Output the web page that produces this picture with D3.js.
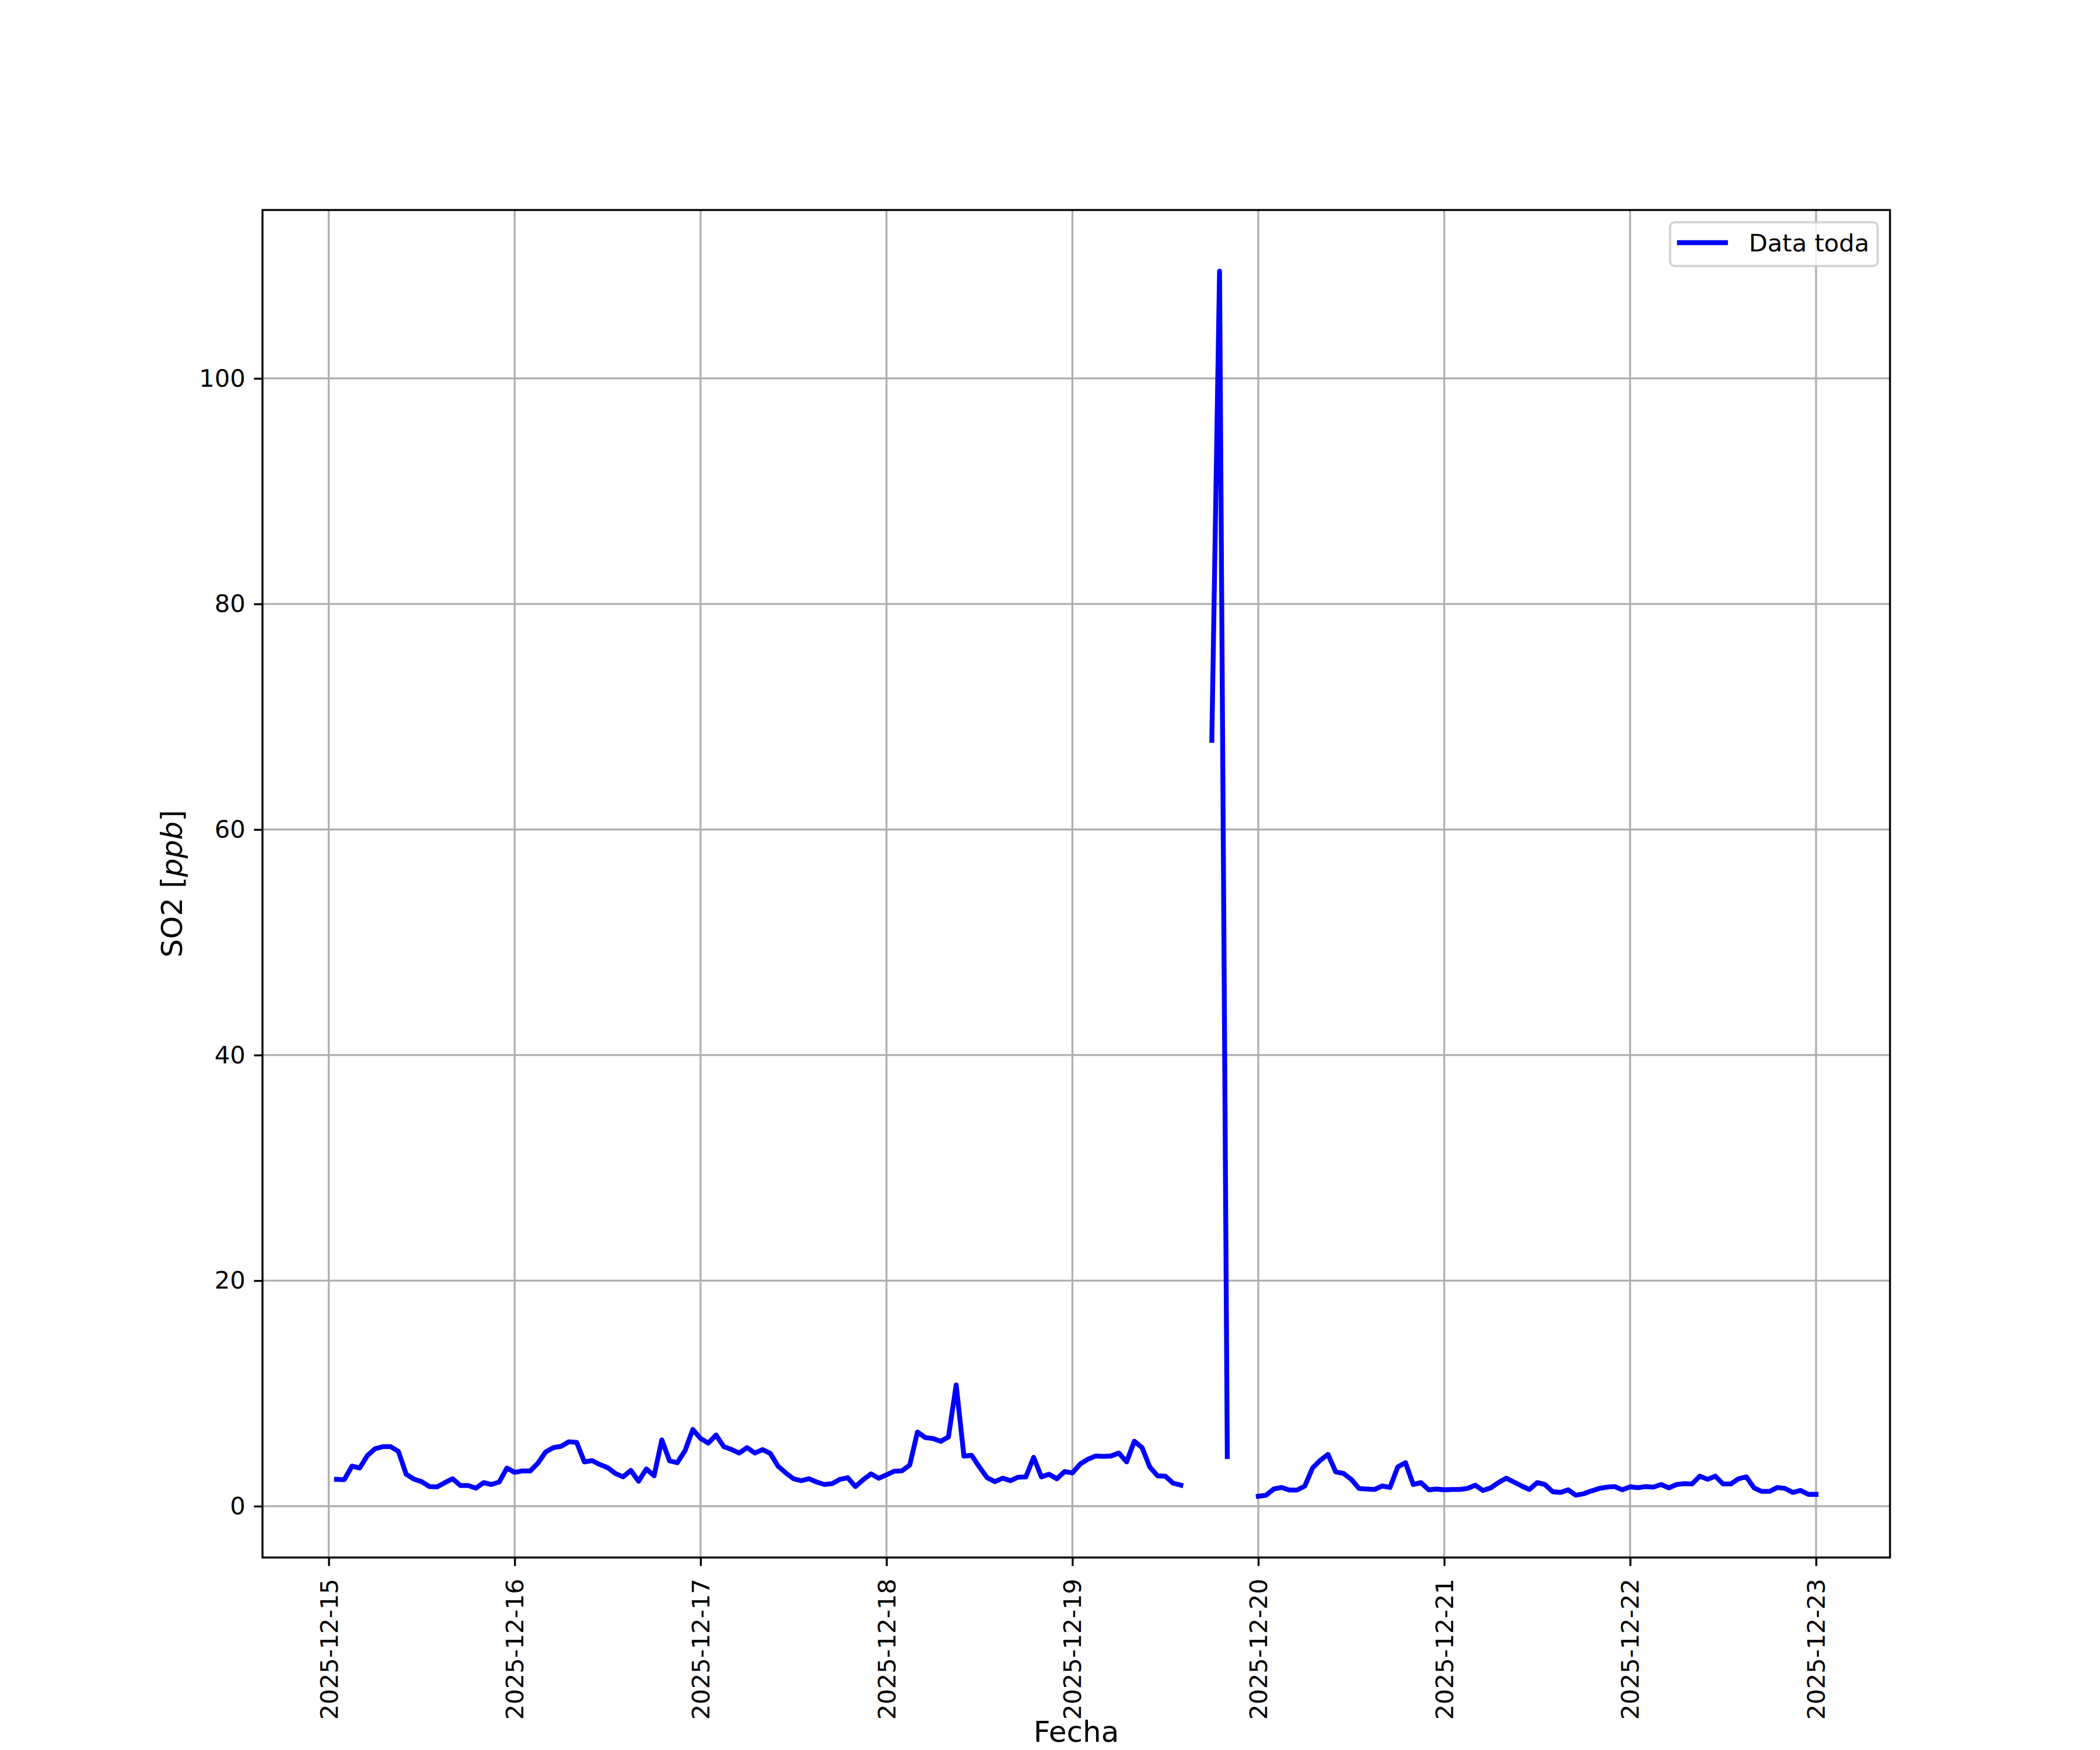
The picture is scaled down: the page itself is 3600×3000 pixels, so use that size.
<!DOCTYPE html>
<html>
<head>
<meta charset="utf-8">
<script src="https://cdn.jsdelivr.net/npm/d3@7"></script>
<style>
  html, body { margin: 0; padding: 0; background: #ffffff; }
  svg { display: block; }
  text { font-family: "DejaVu Sans", sans-serif; fill: #000; }
</style>
</head>
<body>
<script>
// ---------------- DATA ----------------
const startTime = "2025-12-15T01:00:00Z";   // first hourly sample
const stepHours = 1;
const so2 = [
  // 2025-12-15 01:00 .. 2025-12-16 00:00
  2.38, 2.35, 3.55, 3.38, 4.5, 5.1, 5.28, 5.28, 4.85, 2.83, 2.4, 2.17,
  1.74, 1.71, 2.09, 2.43, 1.83, 1.83, 1.6, 2.09, 1.92, 2.14, 3.38, 3.0,
  // 2025-12-16 01:00 .. 2025-12-17 00:00
  3.12, 3.12, 3.81, 4.8, 5.19, 5.31, 5.71, 5.66, 3.93, 4.04, 3.69, 3.42,
  2.9, 2.6, 3.17, 2.21, 3.3, 2.69, 5.88, 4.02, 3.85, 4.93, 6.8, 6.0,
  // 2025-12-17 01:00 .. 2025-12-18 00:00
  5.59, 6.31, 5.28, 5.02, 4.71, 5.19, 4.71, 5.02, 4.68, 3.55, 2.95, 2.43,
  2.26, 2.43, 2.14, 1.92, 2.0, 2.38, 2.52, 1.74, 2.35, 2.86, 2.48, 2.78,
  // 2025-12-18 01:00 .. 2025-12-19 00:00
  3.1, 3.14, 3.64, 6.57, 6.09, 6.0, 5.75, 6.14, 10.75, 4.45, 4.5, 3.47,
  2.52, 2.17, 2.48, 2.26, 2.57, 2.6, 4.33, 2.6, 2.83, 2.43, 3.07, 2.95,
  // 2025-12-19 01:00 .. 2025-12-20 00:00
  3.73, 4.16, 4.45, 4.42, 4.45, 4.71, 3.93, 5.76, 5.19, 3.47, 2.69, 2.66,
  2.04, 1.86, null, null, null, 67.9, 109.5, 4.4, null, null, null, 0.88,
  // 2025-12-20 01:00 .. 2025-12-21 00:00
  0.97, 1.52, 1.66, 1.43, 1.43, 1.78, 3.38, 4.07, 4.59, 3.04, 2.9, 2.38,
  1.57, 1.52, 1.48, 1.79, 1.66, 3.47, 3.86, 1.92, 2.09, 1.45, 1.52, 1.45,
  // 2025-12-21 01:00 .. 2025-12-22 00:00
  1.48, 1.48, 1.57, 1.86, 1.40, 1.62, 2.09, 2.48, 2.14, 1.79, 1.48, 2.09,
  1.92, 1.28, 1.22, 1.45, 0.97, 1.10, 1.35, 1.57, 1.69, 1.74, 1.45, 1.72,
  // 2025-12-22 01:00 .. 2025-12-23 00:00
  1.64, 1.74, 1.69, 1.92, 1.62, 1.92, 2.0, 1.97, 2.66, 2.38, 2.66, 1.97,
  1.97, 2.43, 2.6, 1.62, 1.31, 1.31, 1.66, 1.57, 1.22, 1.40, 1.05, 1.05
];
const xTickLabels = ["2025-12-15", "2025-12-16", "2025-12-17", "2025-12-18",
  "2025-12-19", "2025-12-20", "2025-12-21", "2025-12-22", "2025-12-23"];
const yTickValues = [0, 20, 40, 60, 80, 100];
const seriesName = "Data toda";
const xLabel = "Fecha";

// ---------------- LAYOUT ----------------
(function () {
const W = 3600, H = 3000;
const mLeft = 450, mRight = 3240, mTop = 360, mBottom = 2670;
const px = 300 / 72;               // points -> pixels at 300 dpi
const tickLen = 3.5 * px, tickPad = 3.5 * px, thin = 0.8 * px;
const tickFont = 10 * px, labelFont = 12 * px;

const t0 = new Date(startTime);
const data = so2.map((v, i) => ({ t: d3.utcHour.offset(t0, i * stepHours), v }));
const valid = data.filter(d => d.v !== null);

const tExt = d3.extent(data, d => d.t);
const span = tExt[1] - tExt[0];
const x = d3.scaleUtc()
  .domain([new Date(+tExt[0] - 0.05 * span), new Date(+tExt[1] + 0.05 * span)])
  .range([mLeft, mRight]);

const vExt = d3.extent(valid, d => d.v);
const vr = vExt[1] - vExt[0];
const y = d3.scaleLinear()
  .domain([vExt[0] - 0.05 * vr, vExt[1] + 0.05 * vr])
  .range([mBottom, mTop]);

const xTicks = xTickLabels.map(s => new Date(s + "T00:00:00Z"));

const svg = d3.select("body").append("svg")
  .attr("width", W).attr("height", H).attr("viewBox", `0 0 ${W} ${H}`);
svg.append("rect").attr("width", W).attr("height", H).attr("fill", "#fff");

svg.append("defs").append("clipPath").attr("id", "clip")
  .append("rect").attr("x", mLeft).attr("y", mTop)
  .attr("width", mRight - mLeft).attr("height", mBottom - mTop);

// grid
const grid = svg.append("g").attr("stroke", "#b0b0b0").attr("stroke-width", thin);
grid.selectAll("line.gx").data(xTicks).join("line").attr("class", "gx")
  .attr("x1", d => x(d)).attr("x2", d => x(d))
  .attr("y1", mTop).attr("y2", mBottom);
grid.selectAll("line.gy").data(yTickValues).join("line").attr("class", "gy")
  .attr("x1", mLeft).attr("x2", mRight)
  .attr("y1", d => y(d)).attr("y2", d => y(d));

// line
const line = d3.line()
  .defined(d => d.v !== null)
  .x(d => x(d.t)).y(d => y(d.v));
svg.append("path").datum(data)
  .attr("clip-path", "url(#clip)")
  .attr("d", line)
  .attr("fill", "none")
  .attr("stroke", "#0000ff")
  .attr("stroke-width", 2 * px)
  .attr("stroke-linecap", "square")
  .attr("stroke-linejoin", "round");

// x axis
const xAxis = svg.append("g").attr("transform", `translate(0,${mBottom})`)
  .call(d3.axisBottom(x).tickValues(xTicks)
    .tickFormat((d, i) => xTickLabels[i])
    .tickSizeInner(tickLen).tickSizeOuter(0).tickPadding(tickPad));
xAxis.select(".domain").remove();
xAxis.selectAll(".tick line").attr("stroke", "#000").attr("stroke-width", thin);
xAxis.selectAll(".tick text")
  .attr("font-size", tickFont)
  .attr("font-family", "DejaVu Sans")
  .attr("fill", "#000")
  .attr("y", null).attr("dy", null)
  .attr("transform", `translate(0,${tickLen + tickPad + 7}) rotate(-90)`)
  .attr("text-anchor", "end")
  .attr("dominant-baseline", "central");

// y axis
const yAxis = svg.append("g").attr("transform", `translate(${mLeft},0)`)
  .call(d3.axisLeft(y).tickValues(yTickValues).tickFormat(d3.format("d"))
    .tickSizeInner(tickLen).tickSizeOuter(0).tickPadding(tickPad));
yAxis.select(".domain").remove();
yAxis.selectAll(".tick line").attr("stroke", "#000").attr("stroke-width", thin);
yAxis.selectAll(".tick text")
  .attr("font-size", tickFont)
  .attr("fill", "#000")
  .attr("font-family", "DejaVu Sans");

// spines
svg.append("rect")
  .attr("x", mLeft).attr("y", mTop)
  .attr("width", mRight - mLeft).attr("height", mBottom - mTop)
  .attr("fill", "none").attr("stroke", "#000").attr("stroke-width", thin);

// axis labels
svg.append("text")
  .attr("x", (mLeft + mRight) / 2).attr("y", 2986)
  .attr("text-anchor", "middle")
  .attr("font-size", labelFont)
  .text(xLabel);

const yl = svg.append("text")
  .attr("transform", `translate(312,${(mTop + mBottom) / 2}) rotate(-90)`)
  .attr("text-anchor", "middle")
  .attr("font-size", labelFont);
yl.append("tspan").text("SO2 [");
yl.append("tspan").attr("font-style", "italic").text("ppb");
yl.append("tspan").text("]");

// legend
const lg = svg.append("g");
lg.append("rect")
  .attr("x", 2863).attr("y", 381).attr("width", 356).attr("height", 75)
  .attr("rx", 8).attr("ry", 8)
  .attr("fill", "#fff").attr("fill-opacity", 0.8)
  .attr("stroke", "#cccccc").attr("stroke-opacity", 0.8)
  .attr("stroke-width", 1.0 * px);
lg.append("line")
  .attr("x1", 2879).attr("x2", 2958).attr("y1", 416).attr("y2", 416)
  .attr("stroke", "#0000ff").attr("stroke-width", 2 * px)
  .attr("stroke-linecap", "square");
lg.append("text")
  .attr("x", 2998).attr("y", 431)
  .attr("font-size", tickFont)
  .text(seriesName);
})();
</script>
</body>
</html>
